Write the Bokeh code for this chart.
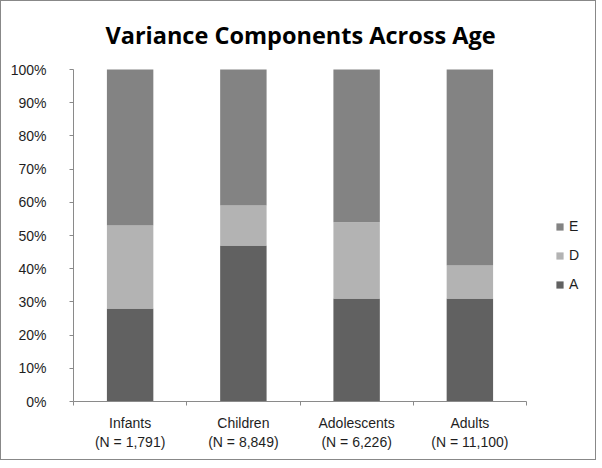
from bokeh.plotting import figure
from bokeh.models import (Legend, LegendItem, NumeralTickFormatter, FixedTicker,
                          LinearAxis, Range1d, ColumnDataSource, Label)
from bokeh.embed import file_html
from bokeh.resources import INLINE

groups = ["Infants", "Children", "Adolescents", "Adults"]
sample_sizes = ["1,791", "8,849", "6,226", "11,100"]
A = [0.28, 0.47, 0.31, 0.31]
D = [0.25, 0.12, 0.23, 0.10]
E = [0.47, 0.41, 0.46, 0.59]
components = ["A", "D", "E"]
colors = ["#616161", "#b3b3b3", "#838383"]
y_ticks = [i / 10 for i in range(11)]
title_text = "Variance Components Across Age"

# ---- layout (pixels) ----
W, H = 594, 458
LEFT, BOTTOM = 72, 58          # panels for axes
AXIS_W, AXIS_H = 453, 332      # pixel extent of the category span / 0-100% span
FRAME_W, FRAME_H = W - LEFT, H - BOTTOM
n = len(groups)
x_end = n * FRAME_W / AXIS_W
y_end = 1.0 * FRAME_H / AXIS_H

def px_to_x(px):
    return (px - LEFT) / AXIS_W * n

def px_to_y(py):
    return (FRAME_H - py) / AXIS_H

centers = [i + 0.5 for i in range(n)]
bounds = list(range(n + 1))
src = ColumnDataSource(dict(x=centers, A=A, D=D, E=E))

p = figure(title=None, x_range=Range1d(0, x_end), y_range=Range1d(0, y_end),
           frame_width=FRAME_W, frame_height=FRAME_H,
           output_backend="svg", toolbar_location=None, x_axis_location=None,
           min_border_left=LEFT, min_border_right=0, min_border_top=0,
           min_border_bottom=BOTTOM)
p.styles = {"border": "1px solid #888888", "box-sizing": "border-box"}

renderers = p.vbar_stack(components, x="x", width=0.41, color=colors,
                         line_color=None, source=src)

p.xgrid.visible = False
p.ygrid.visible = False
p.outline_line_color = None

# title
p.add_layout(Label(x=px_to_x(299), y=px_to_y(33), text=title_text,
                   text_align="center", text_baseline="alphabetic",
                   text_font="Open Sans", text_font_style="bold",
                   text_font_size="23.5px", text_color="#000000"))

# y axis
ya = p.yaxis[0]
ya.bounds = (0, 1)
ya.ticker = FixedTicker(ticks=y_ticks)
ya.formatter = NumeralTickFormatter(format="0%")
ya.major_tick_out = 4
ya.major_tick_in = 0
ya.minor_tick_line_color = None
ya.axis_line_color = "#8a8a8a"
ya.major_tick_line_color = "#8a8a8a"
ya.major_label_standoff = 23
ya.major_label_text_font = "Liberation Sans"
ya.major_label_text_font_size = "14px"
ya.major_label_text_color = "#1e1e1e"

# x axis: tick marks between categories
tick_axis = LinearAxis(ticker=FixedTicker(ticks=bounds), bounds=(0, n),
                       major_label_text_font_size="0px", major_label_standoff=0,
                       major_tick_out=4, major_tick_in=0,
                       minor_tick_line_color=None,
                       axis_line_color="#8a8a8a", major_tick_line_color="#8a8a8a")
tick_axis.major_label_overrides = {b: "" for b in bounds}
p.add_layout(tick_axis, "below")

# x axis: category labels
cat_axis = LinearAxis(ticker=FixedTicker(ticks=centers), bounds=(0, n),
                      axis_line_color=None, major_tick_line_color=None,
                      minor_tick_line_color=None, major_label_standoff=3,
                      major_label_text_font="Liberation Sans",
                      major_label_text_font_size="14px",
                      major_label_text_color="#1e1e1e")
cat_axis.major_label_overrides = {c: f"{g}\n(N = {s})" for c, g, s in zip(centers, groups, sample_sizes)}
p.add_layout(cat_axis, "below")

# legend (E, D, A top to bottom)
items = [LegendItem(label=c, renderers=[r]) for c, r in zip(components, renderers)][::-1]
legend = Legend(items=items, location=(554 - LEFT, FRAME_H - 293), orientation="vertical",
                glyph_width=9, glyph_height=9, label_standoff=5, spacing=9,
                label_height=20, padding=0, margin=0,
                label_text_font="Liberation Sans", label_text_font_size="14px",
                label_text_color="#1e1e1e", background_fill_alpha=0,
                border_line_color=None)
p.add_layout(legend)

open("out.html", "w").write(file_html(p, INLINE))
